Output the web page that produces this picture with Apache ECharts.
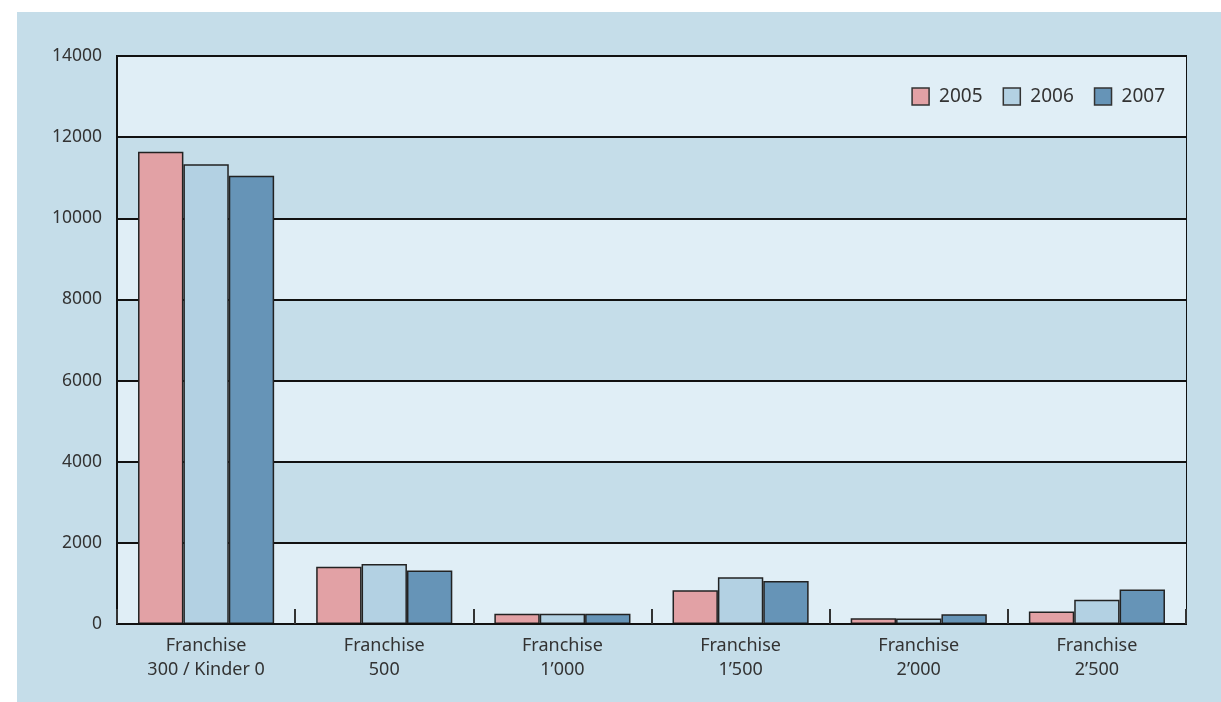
<!DOCTYPE html>
<html>
<head>
<meta charset="utf-8">
<script src="https://cdn.jsdelivr.net/npm/echarts@6/dist/echarts.min.js"></script>
<style>
  html, body { margin: 0; padding: 0; background: #fff; }
  #chart {
    position: absolute;
    left: 17px;
    top: 12px;
    width: 1204px;
    height: 690px;
    background: #c5dde9;
  }
</style>
</head>
<body>
<div id="chart"></div>
<script>
const categories = [
  'Franchise\n300 / Kinder 0',
  'Franchise\n500',
  'Franchise\n1’000',
  'Franchise\n1’500',
  'Franchise\n2’000',
  'Franchise\n2’500',
]
const years = ['2005', '2006', '2007']
const values2005 = [11640, 1410, 250, 830, 140, 310]
const values2006 = [11330, 1480, 250, 1150, 135, 600]
const values2007 = [11050, 1320, 250, 1060, 240, 850]
const yTicks = { min: 0, max: 14000, interval: 2000 }

const colors = ['#e2a1a5', '#b3d1e3', '#6694b7']
const font = '"Noto Sans", "Open Sans", sans-serif'

const chart = echarts.init(document.getElementById('chart'))

function barSeries(name, data, color) {
  return {
    name,
    type: 'bar',
    data,
    barGap: '0%',
    barCategoryGap: '23.6%',
    itemStyle: {
      color,
      borderColor: '#222',
      borderWidth: 1.5,
    },
  }
}

chart.setOption({
  animation: false,
  backgroundColor: 'transparent',
  textStyle: { fontFamily: font },
  grid: {
    left: 100,
    top: 44,
    right: 35,
    bottom: 78,
    show: true,
    borderColor: '#111',
    borderWidth: 2,
    backgroundColor: 'transparent',
  },
  legend: {
    data: years,
    right: 56,
    top: 75,
    padding: 0,
    itemGap: 20,
    itemWidth: 17,
    itemHeight: 17,
    icon: 'rect',
    itemStyle: { borderColor: '#333', borderWidth: 1.5 },
    textStyle: {
      fontFamily: font,
      fontSize: 19,
      color: '#333',
      padding: [0, 0, 0, 5],
    },
  },
  xAxis: {
    type: 'category',
    data: categories,
    z: 5,
    axisLine: { show: true, lineStyle: { color: '#111', width: 2 } },
    axisTick: {
      show: true,
      interval: 0,
      inside: true,
      length: 15,
      lineStyle: { color: '#333', width: 2 },
    },
    axisLabel: {
      fontFamily: font,
      fontSize: 18,
      lineHeight: 24,
      margin: 10,
      color: '#333',
    },
  },
  yAxis: {
    type: 'value',
    min: yTicks.min,
    max: yTicks.max,
    interval: yTicks.interval,
    axisLine: { show: true, lineStyle: { color: '#111', width: 2 } },
    axisTick: { show: false },
    axisLabel: {
      fontFamily: font,
      fontSize: 17.5,
      margin: 15,
      color: '#333',
      formatter: (v) => String(v),
    },
    splitLine: { lineStyle: { color: '#111', width: 2 } },
    splitArea: {
      show: true,
      areaStyle: { color: ['#e0eef6', '#c5dde9'] },
    },
  },
  series: [
    barSeries(years[0], values2005, colors[0]),
    barSeries(years[1], values2006, colors[1]),
    barSeries(years[2], values2007, colors[2]),
  ],
})
</script>
</body>
</html>
